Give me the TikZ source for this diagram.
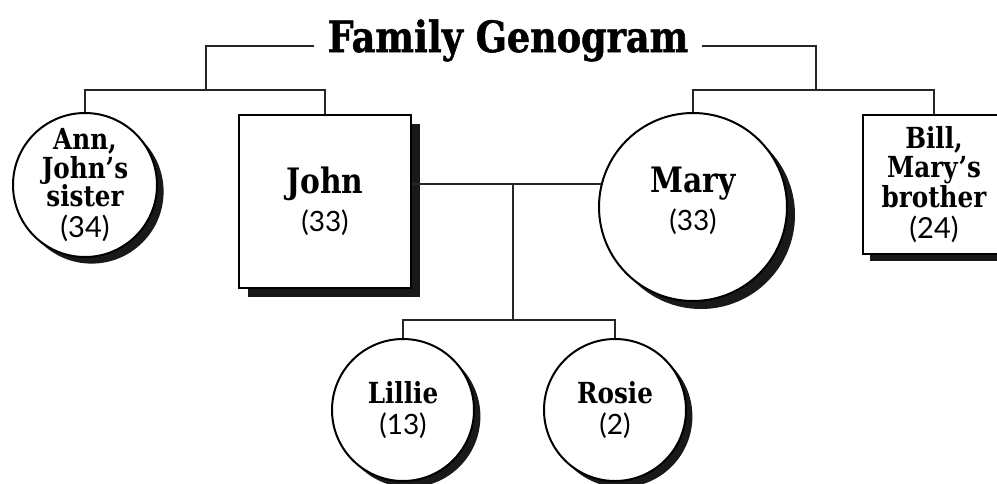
\documentclass[tikz,border=0pt]{standalone}
\usepackage{fontspec}
\newfontfamily\titlefont{DejaVu Serif}[FakeStretch=0.85,FakeBold=1.2]
\newfontfamily\namefont{DejaVu Serif}[FakeStretch=0.85]
\newfontfamily\agefont{Lato}
\usetikzlibrary{shadows}

\begin{document}
\begin{tikzpicture}[x=0.5pt,y=-0.5pt,
	link/.style={line width=1.1pt,black!85},
	person/.style={draw,line width=1pt,fill=white,align=center,inner sep=0pt},
	female/.style={person,circle,minimum size=#1},
	male/.style={person,rectangle},
	shade/.style={drop shadow={shadow xshift=#1,shadow yshift=-#1,opacity=1,fill=black!90}},
	small/.style={font=\namefont\bfseries\fontsize{14.5}{14.2}\selectfont},
	big/.style={font=\namefont\bfseries\fontsize{17.5}{16}\selectfont}]
	\useasboundingbox (0,0) rectangle (997,483);

	\node[anchor=base,inner xsep=6.5pt,font=\titlefont\bfseries\fontsize{21.5}{24}\selectfont] (title) at (508,52) {Family Genogram};

	% first generation
	\node[female=72pt,shade=3.3pt,small] (ann) at (85,185) {Ann,\\John’s\\sister\\[1pt]{\agefont\mdseries (34)}};
	\node[male,minimum width=86pt,minimum height=86.5pt,shade=4.5pt,big] (john) at (325,201.5) {John\\[3pt]{\agefont\mdseries\fontsize{14}{14}\selectfont (33)}};
	\node[female=94pt,shade=4pt,big] (mary) at (693,207) {Mary\\[3pt]{\agefont\mdseries\fontsize{14}{14}\selectfont (33)}\\[-8pt]};
	\node[male,minimum width=71pt,minimum height=69.5pt,shade=3.5pt,small] (bill) at (934,184.5) {Bill,\\Mary’s\\brother\\[1pt]{\agefont\mdseries (24)}};

	% children
	\node[female=71pt,shade=3.2pt,small] (lillie) at (403,410) {Lillie\\[1pt]{\agefont\mdseries\fontsize{14}{14}\selectfont (13)}};
	\node[female=71pt,shade=3.2pt,small] (rosie) at (615,410) {Rosie\\[1pt]{\agefont\mdseries\fontsize{14}{14}\selectfont (2)}};

	\coordinate (ltop) at (206,46);
	\coordinate (rtop) at (816,46);
	\coordinate (lroot) at (206,90);
	\coordinate (rroot) at (816,90);
	\coordinate (kids) at (513,320);

	\begin{scope}[link]
		\draw (title.west |- ltop) -- (ltop) -- (lroot);
		\draw (title.east |- rtop) -- (rtop) -- (rroot);
		\draw (ann.north) |- (john.north |- lroot) -- (john.north);
		\draw (mary.north) |- (bill.north |- rroot) -- (bill.north);
		\draw (john.east |- mary.166.5) -- (mary.166.5);
		\draw (kids |- mary.166.5) -- (kids) -| (lillie.north);
		\draw (kids) -| (rosie.north);
	\end{scope}
\end{tikzpicture}
\end{document}
